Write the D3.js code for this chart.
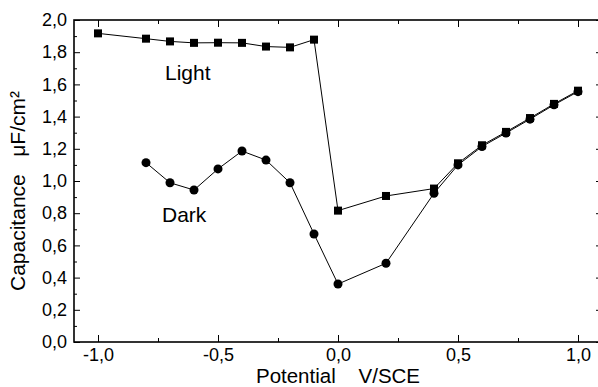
<!DOCTYPE html>
<html>
<head>
<meta charset="utf-8">
<script src="https://cdn.jsdelivr.net/npm/d3@7"></script>
<style>
  body { margin: 0; background: #fff; }
  svg { display: block; font-family: Arial, "Liberation Sans", sans-serif; }
</style>
</head>
<body>
<div id="chart"></div>
<script>
// ---- Data
const potential = [-1.0, -0.8, -0.7, -0.6, -0.5, -0.4, -0.3, -0.2, -0.1, 0.0, 0.2, 0.4, 0.5, 0.6, 0.7, 0.8, 0.9, 1.0];
const lightValues = [1.917, 1.884, 1.867, 1.858, 1.859, 1.858, 1.835, 1.830, 1.878, 0.816, 0.907, 0.953, 1.110, 1.222, 1.305, 1.391, 1.479, 1.561];
const darkPotential = [-0.8, -0.7, -0.6, -0.5, -0.4, -0.3, -0.2, -0.1, 0.0, 0.2, 0.4, 0.5, 0.6, 0.7, 0.8, 0.9, 1.0];
const darkValues = [1.114, 0.989, 0.944, 1.075, 1.186, 1.130, 0.989, 0.671, 0.360, 0.489, 0.924, 1.100, 1.214, 1.298, 1.384, 1.473, 1.555];
const xTicks = [-1.0, -0.5, 0.0, 0.5, 1.0];
const xMinorTicks = [-0.75, -0.25, 0.25, 0.75];
const yTicks = [0.0, 0.2, 0.4, 0.6, 0.8, 1.0, 1.2, 1.4, 1.6, 1.8, 2.0];
const yMinorTicks = [0.1, 0.3, 0.5, 0.7, 0.9, 1.1, 1.3, 1.5, 1.7, 1.9];

const width = 598, height = 387;
const margin = { top: 20, left: 74 };
const plotRight = 602, plotBottom = 342;

const fmt = d3.format('.1f');
const comma = (v) => fmt(v).replace('.', ',').replace('−', '-');

const svg = d3.select('#chart').append('svg')
    .attr('width', width)
    .attr('height', height);

// ---- Scales
const x = d3.scaleLinear().domain([-1.1, 1.1]).range([margin.left, plotRight]);
const y = d3.scaleLinear().domain([0, 2]).range([plotBottom, margin.top]);

// ---- Axes (ticks point inward, frame on all sides)
const axisStyle = (g) => {
    g.select('.domain').remove();
    g.selectAll('line').attr('stroke', '#000').attr('stroke-width', 1);
    g.selectAll('text').style('font-size', '18px').attr('fill', '#000');
};

svg.append('g').attr('transform', `translate(0,${plotBottom})`)
    .call(d3.axisBottom(x).tickValues(xTicks).tickSize(-7).tickPadding(3).tickFormat(comma))
    .call(axisStyle)
    .call(g => g.selectAll('text').attr('dy', '0.87em'));
svg.append('g').attr('transform', `translate(0,${plotBottom})`)
    .call(d3.axisBottom(x).tickValues(xMinorTicks).tickSize(-4).tickFormat(''))
    .call(axisStyle);
svg.append('g').attr('transform', `translate(0,${margin.top})`)
    .call(d3.axisTop(x).tickValues(xTicks).tickSize(-7).tickFormat(''))
    .call(axisStyle);
svg.append('g').attr('transform', `translate(0,${margin.top})`)
    .call(d3.axisTop(x).tickValues(xMinorTicks).tickSize(-4).tickFormat(''))
    .call(axisStyle);

svg.append('g').attr('transform', `translate(${margin.left},0)`)
    .call(d3.axisLeft(y).tickValues(yTicks).tickSize(-6).tickPadding(7).tickFormat(comma))
    .call(axisStyle);
svg.append('g').attr('transform', `translate(${margin.left},0)`)
    .call(d3.axisLeft(y).tickValues(yMinorTicks).tickSize(-3).tickFormat(''))
    .call(axisStyle);
svg.append('g').attr('transform', `translate(${plotRight},0)`)
    .call(d3.axisRight(y).tickValues(yTicks).tickSize(-6).tickFormat(''))
    .call(axisStyle);
svg.append('g').attr('transform', `translate(${plotRight},0)`)
    .call(d3.axisRight(y).tickValues(yMinorTicks).tickSize(-3).tickFormat(''))
    .call(axisStyle);

// Frame
svg.append('rect')
    .attr('x', margin.left).attr('y', margin.top)
    .attr('width', plotRight - margin.left).attr('height', plotBottom - margin.top)
    .attr('fill', 'none').attr('stroke', '#000').attr('stroke-width', 1.6);

// ---- Series
const line = d3.line().x(d => x(d[0])).y(d => y(d[1]));
const lightPts = potential.map((p, i) => [p, lightValues[i]]);
const darkPts = darkPotential.map((p, i) => [p, darkValues[i]]);

svg.append('path').datum(darkPts).attr('d', line)
    .attr('fill', 'none').attr('stroke', '#000').attr('stroke-width', 1);
svg.append('path').datum(lightPts).attr('d', line)
    .attr('fill', 'none').attr('stroke', '#000').attr('stroke-width', 1);

svg.selectAll('.dark').data(darkPts).join('circle')
    .attr('class', 'dark')
    .attr('cx', d => x(d[0])).attr('cy', d => y(d[1]))
    .attr('r', 4.5).attr('fill', '#000');
svg.selectAll('.light').data(lightPts).join('rect')
    .attr('class', 'light')
    .attr('x', d => x(d[0]) - 4).attr('y', d => y(d[1]) - 4)
    .attr('width', 8).attr('height', 8).attr('fill', '#000');

// ---- Series labels
svg.append('text').attr('x', 165).attr('y', 80)
    .style('font-size', '21px').text('Light');
svg.append('text').attr('x', 162).attr('y', 222)
    .style('font-size', '21px').text('Dark');

// ---- Axis titles
svg.append('text')
    .attr('transform', `translate(25,191) rotate(-90)`)
    .attr('text-anchor', 'middle')
    .style('font-size', '21px')
    .attr('xml:space', 'preserve')
    .text('Capacitance   μF/cm²');
svg.append('text')
    .attr('x', 338).attr('y', 383)
    .attr('text-anchor', 'middle')
    .style('font-size', '20.5px')
    .attr('xml:space', 'preserve')
    .text('Potential    V/SCE');
</script>
</body>
</html>
